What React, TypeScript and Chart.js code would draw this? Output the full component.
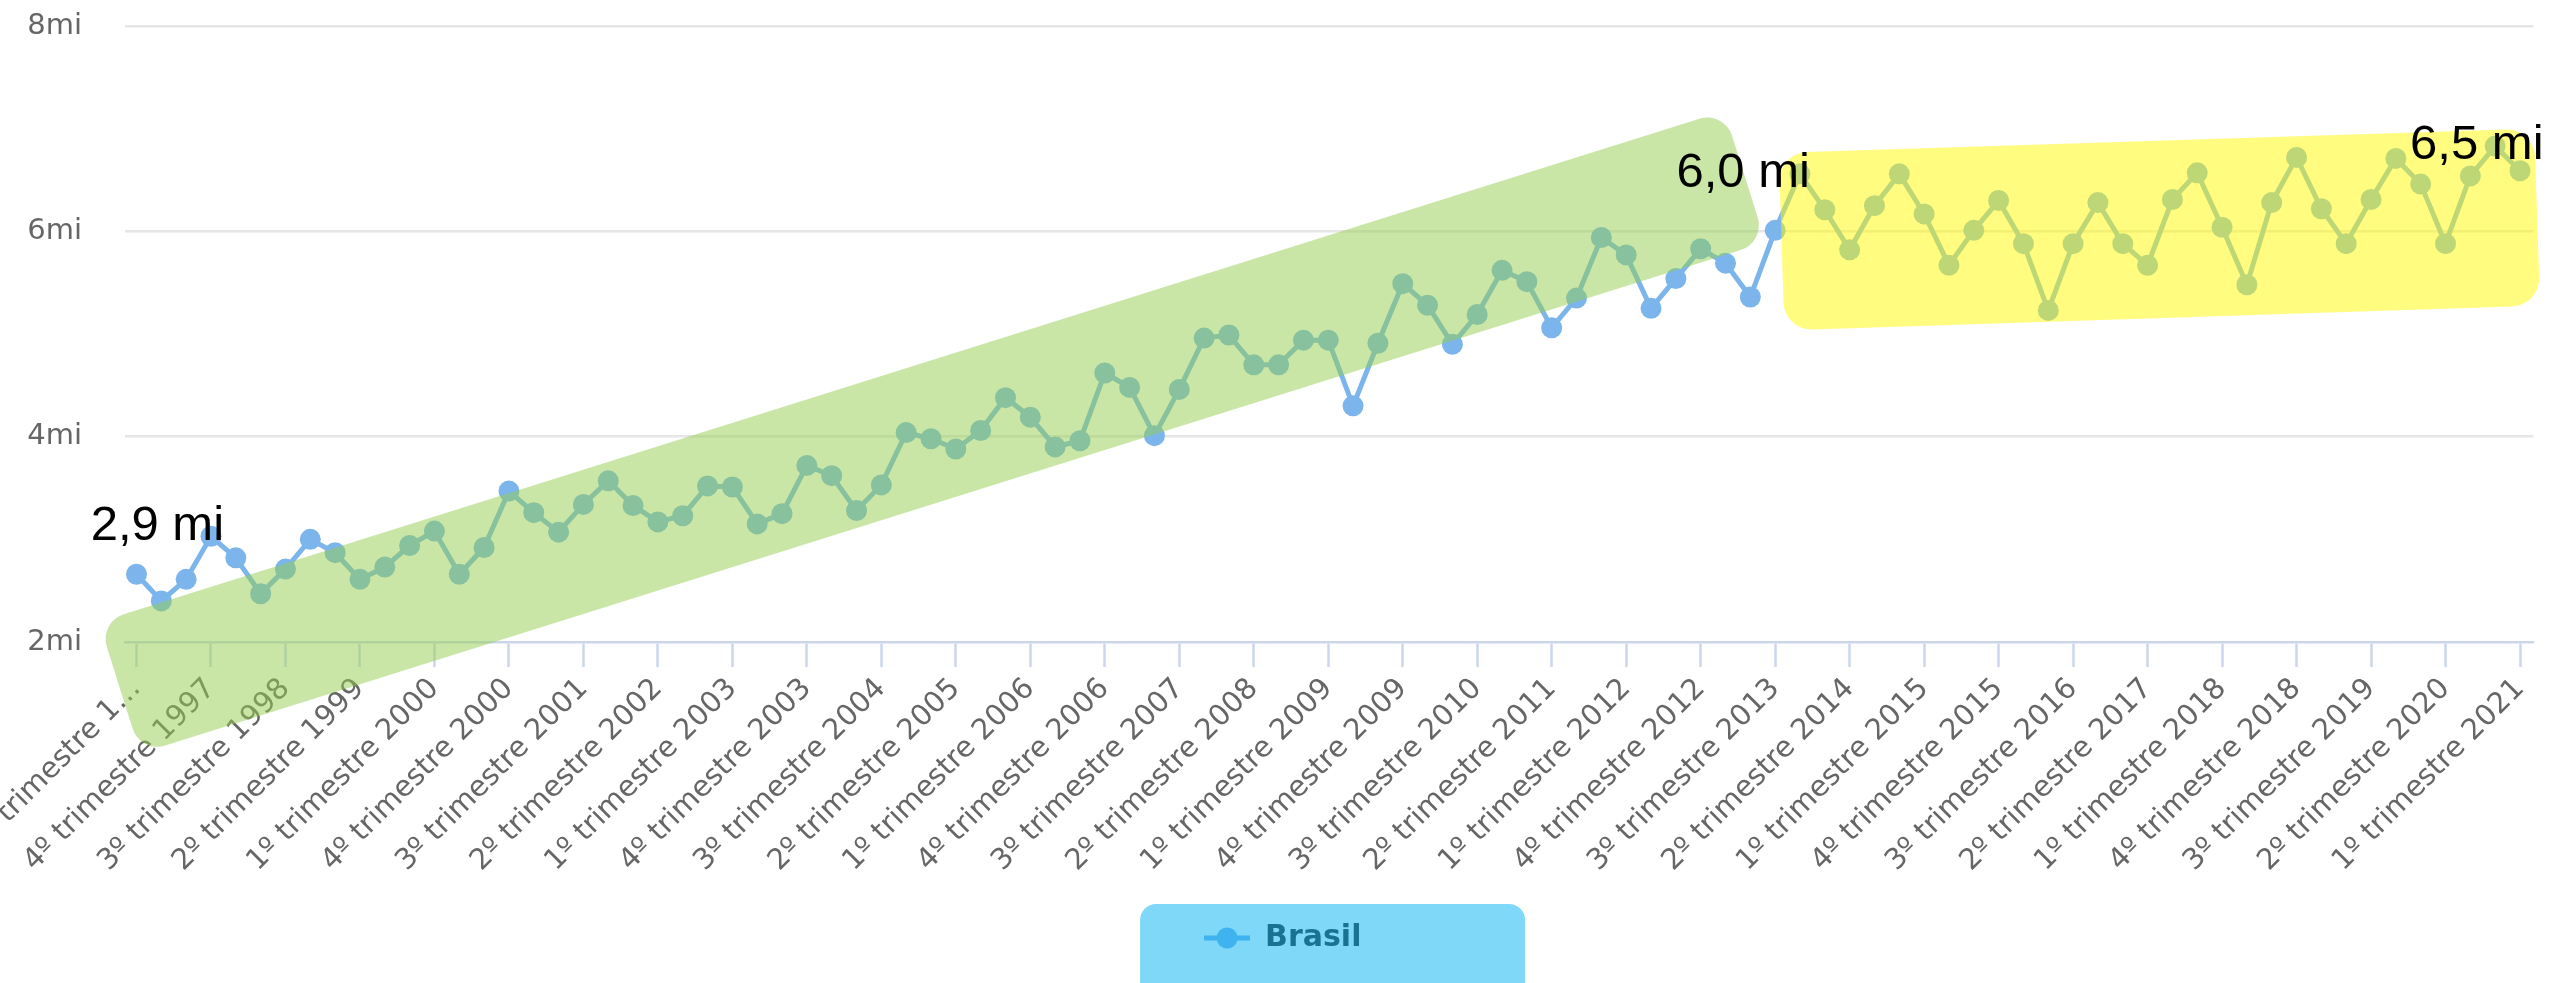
import React, { useEffect, useRef } from 'react';
import { Chart, registerables } from 'chart.js';

Chart.register(...registerables);

const SERIES_NAME = 'Brasil';

// Categories: quarters from 1º trimestre 1997 to 1º trimestre 2021
const CATEGORIES: string[] = [];
for (let year = 1997; year <= 2021; year++) {
  for (let q = 1; q <= 4; q++) {
    if (year === 2021 && q > 1) break;
    CATEGORIES.push(`${q}º trimestre ${year}`);
  }
}

// Values in millions (mi)
const VALUES = [
  2.66, 2.40, 2.61, 3.03, 2.82, 2.47, 2.71, 3.00, 2.87, 2.61,
  2.73, 2.94, 3.08, 2.66, 2.92, 3.47, 3.26, 3.07, 3.34, 3.57,
  3.33, 3.17, 3.23, 3.52, 3.51, 3.15, 3.25, 3.72, 3.62, 3.28,
  3.53, 4.04, 3.98, 3.88, 4.06, 4.38, 4.19, 3.90, 3.96, 4.62,
  4.48, 4.01, 4.46, 4.96, 4.99, 4.70, 4.70, 4.94, 4.94, 4.30,
  4.91, 5.49, 5.28, 4.90, 5.19, 5.62, 5.51, 5.06, 5.35, 5.94,
  5.77, 5.25, 5.54, 5.83, 5.69, 5.36, 6.01, 6.56, 6.21, 5.82,
  6.25, 6.56, 6.17, 5.67, 6.01, 6.30, 5.88, 5.23, 5.88, 6.28,
  5.88, 5.67, 6.31, 6.57, 6.04, 5.48, 6.28, 6.72, 6.22, 5.88,
  6.31, 6.71, 6.46, 5.88, 6.54, 6.83, 6.59,
];

const TICK_STEP = 3;
const TICK_LABELS = [
  '1º trimestre 1…', '4º trimestre 1997', '3º trimestre 1998', '2º trimestre 1999', '1º trimestre 2000',
  '4º trimestre 2000', '3º trimestre 2001', '2º trimestre 2002', '1º trimestre 2003', '4º trimestre 2003',
  '3º trimestre 2004', '2º trimestre 2005', '1º trimestre 2006', '4º trimestre 2006', '3º trimestre 2007',
  '2º trimestre 2008', '1º trimestre 2009', '4º trimestre 2009', '3º trimestre 2010', '2º trimestre 2011',
  '1º trimestre 2012', '4º trimestre 2012', '3º trimestre 2013', '2º trimestre 2014', '1º trimestre 2015',
  '4º trimestre 2015', '3º trimestre 2016', '2º trimestre 2017', '1º trimestre 2018', '4º trimestre 2018',
  '3º trimestre 2019', '2º trimestre 2020', '1º trimestre 2021',
];

const Y_MIN = 2;
const Y_MAX = 8;
const Y_STEP = 2;

// Callout texts and where they sit (category index, value)
const CALLOUT_TEXTS = ['2,9 mi', '6,0 mi', '6,5 mi'];
const CALLOUT_AT: [number, number][] = [[0.84, 2.99], [64.71, 6.43], [94.26, 6.70]];

// Highlight bands, corners given in (category index, value)
const GREEN_BAND: [number, number][] = [[-1.51, 2.195], [63.95, 7.173], [65.61, 5.893], [0.157, 0.915]];
const YELLOW_BAND: [number, number][] = [[66.15, 6.763], [96.57, 7.001], [96.81, 5.277], [66.37, 5.034]];

const LINE_COLOR = '#7cb5ec';
const W = 2552;
const H = 983;

function roundedPoly(ctx: CanvasRenderingContext2D, pts: number[][], r: number) {
  const n = pts.length;
  const sx = (pts[n - 1][0] + pts[0][0]) / 2;
  const sy = (pts[n - 1][1] + pts[0][1]) / 2;
  ctx.beginPath();
  ctx.moveTo(sx, sy);
  for (let i = 0; i < n; i++) {
    const p = pts[i];
    const q = pts[(i + 1) % n];
    ctx.arcTo(p[0], p[1], q[0], q[1], r);
  }
  ctx.closePath();
}

export default function App() {
  const ref = useRef<HTMLCanvasElement>(null);

  useEffect(() => {
    document.body.style.margin = '0';
    document.body.style.overflow = 'hidden';
    const canvas = ref.current;
    if (!canvas) return;

    const icon = document.createElement('canvas');
    icon.width = 46;
    icon.height = 24;
    const ic = icon.getContext('2d')!;
    ic.strokeStyle = LINE_COLOR;
    ic.lineWidth = 5;
    ic.beginPath();
    ic.moveTo(0, 12);
    ic.lineTo(46, 12);
    ic.stroke();
    ic.fillStyle = LINE_COLOR;
    ic.beginPath();
    ic.arc(23, 12, 10.5, 0, Math.PI * 2);
    ic.fill();

    const overlayPlugin = {
      id: 'overlays',
      afterLayout(chart: any) {
        if (chart.legend) {
          chart.legend.left += 16;
          chart.legend.right += 16;
        }
      },
      afterDraw(chart: any) {
        const { ctx } = chart;
        const xs = chart.scales.x;
        const ys = chart.scales.y;
        const P = (p: [number, number]) => [xs.getPixelForValue(p[0]), ys.getPixelForValue(p[1])];
        ctx.save();
        roundedPoly(ctx, GREEN_BAND.map(P), 26);
        ctx.fillStyle = 'rgba(147,205,77,0.5)';
        ctx.fill();
        roundedPoly(ctx, YELLOW_BAND.map(P), 28);
        ctx.fillStyle = 'rgba(255,250,0,0.5)';
        ctx.fill();
        const hb = chart.legend && chart.legend.legendHitBoxes && chart.legend.legendHitBoxes[0];
        if (hb) {
          const l = hb.left - 64;
          const t = hb.top - 19;
          roundedPoly(ctx, [[l, t], [l + 385, t], [l + 385, t + 160], [l, t + 160]], 16);
          ctx.fillStyle = 'rgba(0,177,241,0.5)';
          ctx.fill();
        }
        ctx.fillStyle = '#000000';
        ctx.font = '49px "Liberation Sans", Arial, sans-serif';
        ctx.textAlign = 'center';
        ctx.textBaseline = 'alphabetic';
        CALLOUT_TEXTS.forEach((t, i) => {
          const [px, py] = P(CALLOUT_AT[i]);
          ctx.fillText(t, px, py);
        });
        ctx.restore();
      },
    };

    const chart = new Chart(canvas, {
      type: 'line',
      data: {
        datasets: [
          {
            label: SERIES_NAME,
            data: VALUES.map((v, i) => ({ x: i, y: v })),
            borderColor: LINE_COLOR,
            backgroundColor: LINE_COLOR,
            borderWidth: 5,
            pointRadius: 10.5,
            pointHoverRadius: 10.5,
            pointBorderWidth: 0,
            pointBackgroundColor: LINE_COLOR,
            tension: 0,
            fill: false,
          },
        ],
      },
      options: {
        responsive: false,
        animation: false,
        devicePixelRatio: 1,
        layout: { padding: { left: 0, right: 18.5, top: 26, bottom: 20 } },
        plugins: {
          tooltip: { enabled: false },
          legend: {
            position: 'bottom',
            labels: {
              usePointStyle: true,
              pointStyle: icon as any,
              pointStyleWidth: 46,
              padding: 10,
              color: '#333333',
              font: { family: 'DejaVu Sans', size: 30, weight: 'bold' },
            },
          },
        },
        scales: {
          x: {
            type: 'linear',
            min: -0.4632,
            max: 96.5437,
            afterBuildTicks: (scale: any) => {
              scale.ticks = TICK_LABELS.map((_, k) => ({ value: k * TICK_STEP }));
            },
            afterFit: (scale: any) => {
              scale.height = 271;
              scale.paddingLeft = 0;
              scale.paddingRight = 0;
            },
            grid: {
              display: true,
              drawOnChartArea: false,
              drawTicks: true,
              tickLength: 25,
              tickWidth: 2.5,
              tickColor: '#ccd6eb',
              color: '#ccd6eb',
            },
            border: { display: true, color: '#ccd6eb', width: 2.5 },
            ticks: {
              autoSkip: false,
              minRotation: 45,
              maxRotation: 45,
              padding: 12,
              color: '#666666',
              font: { family: 'DejaVu Sans', size: 29, lineHeight: 0.5 },
              callback: (v: any) => TICK_LABELS[Math.round(Number(v) / TICK_STEP)] ?? '',
            },
          },
          y: {
            type: 'linear',
            min: Y_MIN,
            max: Y_MAX,
            afterFit: (scale: any) => {
              scale.width = 125;
              scale.paddingTop = 0;
              scale.paddingBottom = 0;
            },
            grid: {
              drawTicks: false,
              lineWidth: 2.5,
              color: (c: any) => (c.tick && c.tick.value === Y_MIN ? 'rgba(0,0,0,0)' : '#e6e6e6'),
            },
            border: { display: false },
            ticks: {
              stepSize: Y_STEP,
              padding: 43,
              color: '#666666',
              font: { family: 'DejaVu Sans', size: 29 },
              callback: (v: any) => `${v}mi`,
            },
          },
        },
      },
      plugins: [overlayPlugin],
    } as any);

    return () => chart.destroy();
  }, []);

  return <canvas ref={ref} width={W} height={H} style={{ display: 'block', width: W, height: H }} />;
}
